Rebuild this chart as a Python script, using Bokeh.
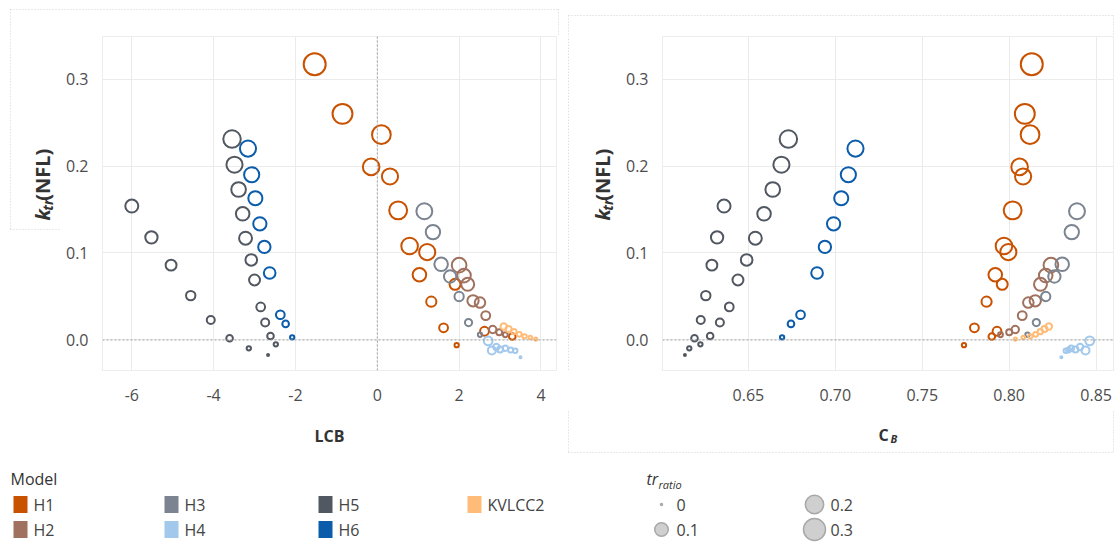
import numpy as np
from bokeh.plotting import figure
from bokeh.models import Range1d, FixedTicker, PrintfTickFormatter, Span, ColumnDataSource
from bokeh.layouts import column, row
from bokeh.embed import file_html
from bokeh.resources import INLINE
from bokeh.core.properties import value

# ---- data -------------------------------------------------------------
models = ["H1", "H2", "H3", "H4", "H5", "H6", "KVLCC2"]

h1_ktr = [0.317, 0.260, 0.236, 0.199, 0.188, 0.149, 0.108, 0.101, 0.075, 0.064, 0.044, 0.014, 0.010, 0.004, -0.006]
h1_lcb = [-1.53, -0.85, 0.10, -0.15, 0.31, 0.51, 0.79, 1.22, 1.03, 1.90, 1.32, 1.62, 2.62, 3.30, 1.94]
h1_cb = [0.813, 0.809, 0.812, 0.806, 0.808, 0.802, 0.797, 0.7995, 0.792, 0.796, 0.787, 0.780, 0.793, 0.790, 0.774]
h1_tr = [0.30, 0.24, 0.21, 0.16, 0.15, 0.19, 0.16, 0.15, 0.10, 0.06, 0.05, 0.035, 0.035, 0.016, 0.004]

h2_ktr = [0.086, 0.074, 0.064, 0.045, 0.043, 0.028, 0.012, 0.009, 0.006]
h2_lcb = [2.00, 2.12, 2.21, 2.34, 2.51, 2.65, 2.82, 2.98, 3.13]
h2_cb = [0.824, 0.821, 0.818, 0.815, 0.811, 0.8075, 0.8035, 0.800, 0.795]
h2_tr = [0.12, 0.10, 0.09, 0.065, 0.055, 0.035, 0.022, 0.012, 0.006]

h3_ktr = [0.148, 0.124, 0.087, 0.073, 0.050, 0.020, 0.006]
h3_lcb = [1.15, 1.36, 1.56, 1.78, 2.00, 2.23, 2.51]
h3_cb = [0.839, 0.836, 0.8305, 0.826, 0.821, 0.8156, 0.8105]
h3_tr = [0.145, 0.115, 0.10, 0.08, 0.04, 0.02, 0.004]

h4_ktr = [-0.001, -0.012, -0.008, -0.011, -0.0095, -0.0115, -0.0125, -0.020]
h4_lcb = [2.71, 2.80, 2.91, 3.00, 3.13, 3.26, 3.37, 3.50]
h4_cb = [0.8463, 0.8439, 0.8408, 0.8381, 0.8357, 0.8342, 0.8326, 0.8300]
h4_tr = [0.035, 0.027, 0.015, 0.012, 0.009, 0.007, 0.005, 0.0]

h5_ktr = [0.154, 0.118, 0.086, 0.051, 0.023, 0.002, -0.0096, -0.0173,
          0.231, 0.2015, 0.173, 0.145, 0.117, 0.092, 0.069, 0.038, 0.020, 0.0046, -0.005]
h5_lcb = [-6.00, -5.52, -5.04, -4.56, -4.07, -3.61, -3.14, -2.67,
          -3.55, -3.49, -3.39, -3.29, -3.22, -3.08, -3.00, -2.85, -2.74, -2.61, -2.48]
h5_cb = [0.636, 0.632, 0.629, 0.6255, 0.6226, 0.619, 0.616, 0.6135,
         0.673, 0.669, 0.664, 0.659, 0.654, 0.649, 0.644, 0.639, 0.6336, 0.628, 0.6224]
h5_tr = [0.091, 0.08, 0.059, 0.041, 0.027, 0.016, 0.004, 0.0,
         0.18, 0.15, 0.12, 0.10, 0.09, 0.07, 0.06, 0.034, 0.027, 0.016, 0.004]

h6_ktr = [0.220, 0.190, 0.163, 0.1335, 0.107, 0.077, 0.029, 0.0185, 0.003]
h6_lcb = [-3.16, -3.07, -2.98, -2.87, -2.76, -2.63, -2.37, -2.24, -2.08]
h6_cb = [0.7116, 0.7075, 0.7034, 0.699, 0.694, 0.6895, 0.680, 0.6745, 0.6694]
h6_tr = [0.15, 0.13, 0.11, 0.095, 0.08, 0.07, 0.034, 0.016, 0.004]

kv_ktr = [0.0154, 0.0127, 0.0096, 0.0065, 0.0042, 0.0028, 0.001]
kv_lcb = [3.09, 3.21, 3.34, 3.47, 3.60, 3.74, 3.87]
kv_cb = [0.8228, 0.8203, 0.8179, 0.8152, 0.8122, 0.8081, 0.8036]
kv_tr = [0.015, 0.012, 0.009, 0.006, 0.004, 0.002, 0.001]

size_breaks = [0, 0.1, 0.2, 0.3]
lcb_ticks = [-6, -4, -2, 0, 2, 4]
cb_ticks = [0.65, 0.70, 0.75, 0.80, 0.85]
ktr_ticks = [0.0, 0.1, 0.2, 0.3]

colors = {"H1": "#C85200", "H2": "#A0715E", "H3": "#7B8490", "H4": "#A2C8EC",
          "H5": "#525861", "H6": "#0B5CAB", "KVLCC2": "#FFBC79"}

series = {
    "H1": (h1_lcb, h1_cb, h1_ktr, h1_tr),
    "H2": (h2_lcb, h2_cb, h2_ktr, h2_tr),
    "H3": (h3_lcb, h3_cb, h3_ktr, h3_tr),
    "H4": (h4_lcb, h4_cb, h4_ktr, h4_tr),
    "H5": (h5_lcb, h5_cb, h5_ktr, h5_tr),
    "H6": (h6_lcb, h6_cb, h6_ktr, h6_tr),
    "KVLCC2": (kv_lcb, kv_cb, kv_ktr, kv_tr),
}

FONT = "Open Sans"
TICK_COLOR = "#4D4D4D"
TITLE_COLOR = "#333333"
BOX_COLOR = "#D3D3D3"

# page geometry (px)
TOP_H = 36          # strip above the plot frames
PANEL_H = 374       # frame (334) + tick label band (40)
XTITLE_H = 50       # band holding the x-axis titles
LEGEND_H = 83
YTITLE_W = 60       # band holding the rotated y-axis titles

# dotted boxes framing each facet: (left, top, right, bottom) in page px
panel_boxes = [(10, 9, 558, 252), (568, 15, 1113, 452)]


def marker_size(tr):
    # area-style size scale: diameter grows with sqrt(tr_ratio)
    return 2 + 20 * np.sqrt(np.asarray(tr, dtype=float) / 0.3)


def strip(x0, y0, w, h):
    """A blank figure whose data space is the page's pixel space."""
    f = figure(width=w, height=h, x_range=Range1d(x0, x0 + w),
               y_range=Range1d(y0 + h, y0), x_axis_type=None,
               y_axis_type=None, output_backend="svg",
               toolbar_location=None, min_border=0)
    f.outline_line_color = None
    f.xgrid.visible = False
    f.ygrid.visible = False
    for (l, t, r, b) in panel_boxes:
        f.segment(x0=[l, l, r, l], y0=[t, t, t, b], x1=[r, l, r, r],
                  y1=[t, b, b, b], line_color=BOX_COLOR, line_width=1,
                  line_dash="1 2")
    return f


def ttext(f, x, y, txt, size, style="normal", angle=0.0, align="left",
          baseline="alphabetic", color=TITLE_COLOR):
    f.text(x=[x], y=[y], text=[txt], angle=angle, text_font=value(FONT),
           text_font_style=style, text_font_size=size, text_color=color,
           text_align=align, text_baseline=baseline)


def panel(xcol, xr, xticks, xfmt, width, mb_right):
    p = figure(width=width, height=PANEL_H, x_range=Range1d(*xr),
               y_range=Range1d(-0.0351, 0.3489), output_backend="svg",
               toolbar_location=None, min_border_left=102 - YTITLE_W,
               min_border_right=mb_right, min_border_top=0,
               min_border_bottom=PANEL_H - 334)
    p.outline_line_color = "#EDEDED"
    p.xaxis.ticker = FixedTicker(ticks=xticks)
    p.xaxis.formatter = PrintfTickFormatter(format=xfmt)
    p.yaxis.ticker = FixedTicker(ticks=ktr_ticks)
    p.yaxis.formatter = PrintfTickFormatter(format="%.1f")
    for ax in (p.xaxis, p.yaxis):
        ax.axis_line_color = None
        ax.major_tick_line_color = None
        ax.minor_tick_line_color = None
        ax.major_label_text_font = FONT
        ax.major_label_text_font_size = "16px"
        ax.major_label_text_color = TICK_COLOR
    p.xaxis.major_label_standoff = 12
    p.yaxis.major_label_standoff = 8
    p.xgrid.grid_line_color = "#EBEBEB"
    p.ygrid.grid_line_color = "#EBEBEB"
    p.add_layout(Span(location=0, dimension="width", line_color="#A0A0A0",
                      line_dash="2 2", line_width=1))
    for m in models:
        lcb, cb, ktr, tr = series[m]
        src = ColumnDataSource(dict(x=lcb if xcol == "lcb" else cb, y=ktr,
                                    s=marker_size(tr)))
        p.scatter("x", "y", size="s", source=src, marker="circle",
                  fill_color=None, line_color=colors[m], line_width=2)
    return p


def ytitle(f, xb):
    # k_tr(NFL), read bottom-to-top
    half_pi = np.pi / 2
    ttext(f, xb, 242, "k", "20px", "bold italic", angle=half_pi)
    ttext(f, xb + 5, 231, "tr", "14px", "bold italic", angle=half_pi)
    ttext(f, xb, 220, "(NFL)", "20px", "bold", angle=half_pi)


# ---- facets -----------------------------------------------------------
top = strip(0, 0, 1119, TOP_H)

p_lcb = panel("lcb", (-6.716, 4.38), lcb_ticks, "%d", 560 - YTITLE_W, 4)
p_lcb.add_layout(Span(location=0, dimension="height", line_color="#A0A0A0",
                      line_dash="2 2", line_width=1))
yt1 = strip(0, TOP_H, YTITLE_W, PANEL_H)
ytitle(yt1, 42)
xt1 = strip(0, TOP_H + PANEL_H, 560, XTITLE_H)
ttext(xt1, 329, 435, "LCB", "16px", "bold", align="center")

p_cb = panel("cb", (0.6006, 0.86), cb_ticks, "%.2f", 559 - YTITLE_W, 6)
yt2 = strip(560, TOP_H, YTITLE_W, PANEL_H)
ytitle(yt2, 602)
xt2 = strip(560, TOP_H + PANEL_H, 559, XTITLE_H)
ttext(xt2, 878, 434, "C", "16px", "bold")
ttext(xt2, 890, 438, "B", "11px", "bold italic")

# ---- legend strip -----------------------------------------------------
leg = strip(0, 460, 1119, LEGEND_H)
ttext(leg, 10, 478, "Model", "16px", baseline="middle")

sw_x = [20, 20, 171, 171, 325, 325, 474]
sw_y = [504, 529, 504, 529, 504, 529, 504]
tx_x = [33, 33, 184, 184, 338, 338, 487]
leg.rect(x=sw_x, y=sw_y, width=14, height=17,
         fill_color=[colors[m] for m in models], line_color=None)
leg.text(x=tx_x, y=sw_y, text=models, text_font=value(FONT),
         text_font_size="16px", text_color="#444444", text_baseline="middle")

ttext(leg, 646, 478, "tr", "16px", "italic", baseline="middle")
ttext(leg, 658, 484, "ratio", "11px", "italic", baseline="middle")

sz_x = [661, 661, 814, 814]
sz_y = [504, 529, 504, 529]
leg.scatter(x=sz_x, y=sz_y, size=marker_size(size_breaks), marker="circle",
            fill_color="#CFCFCF", line_color="#A8A8A8", line_width=1.5)
leg.text(x=[676, 676, 830, 830], y=sz_y,
         text=[("%g" % v) for v in size_breaks], text_font=value(FONT),
         text_font_size="16px", text_color="#444444", text_baseline="middle")

left_block = column(row(yt1, p_lcb, spacing=0), xt1, spacing=0)
right_block = column(row(yt2, p_cb, spacing=0), xt2, spacing=0)
layout = column(top, row(left_block, right_block, spacing=0), leg, spacing=0)

open("out.html", "w").write(file_html(layout, INLINE))
